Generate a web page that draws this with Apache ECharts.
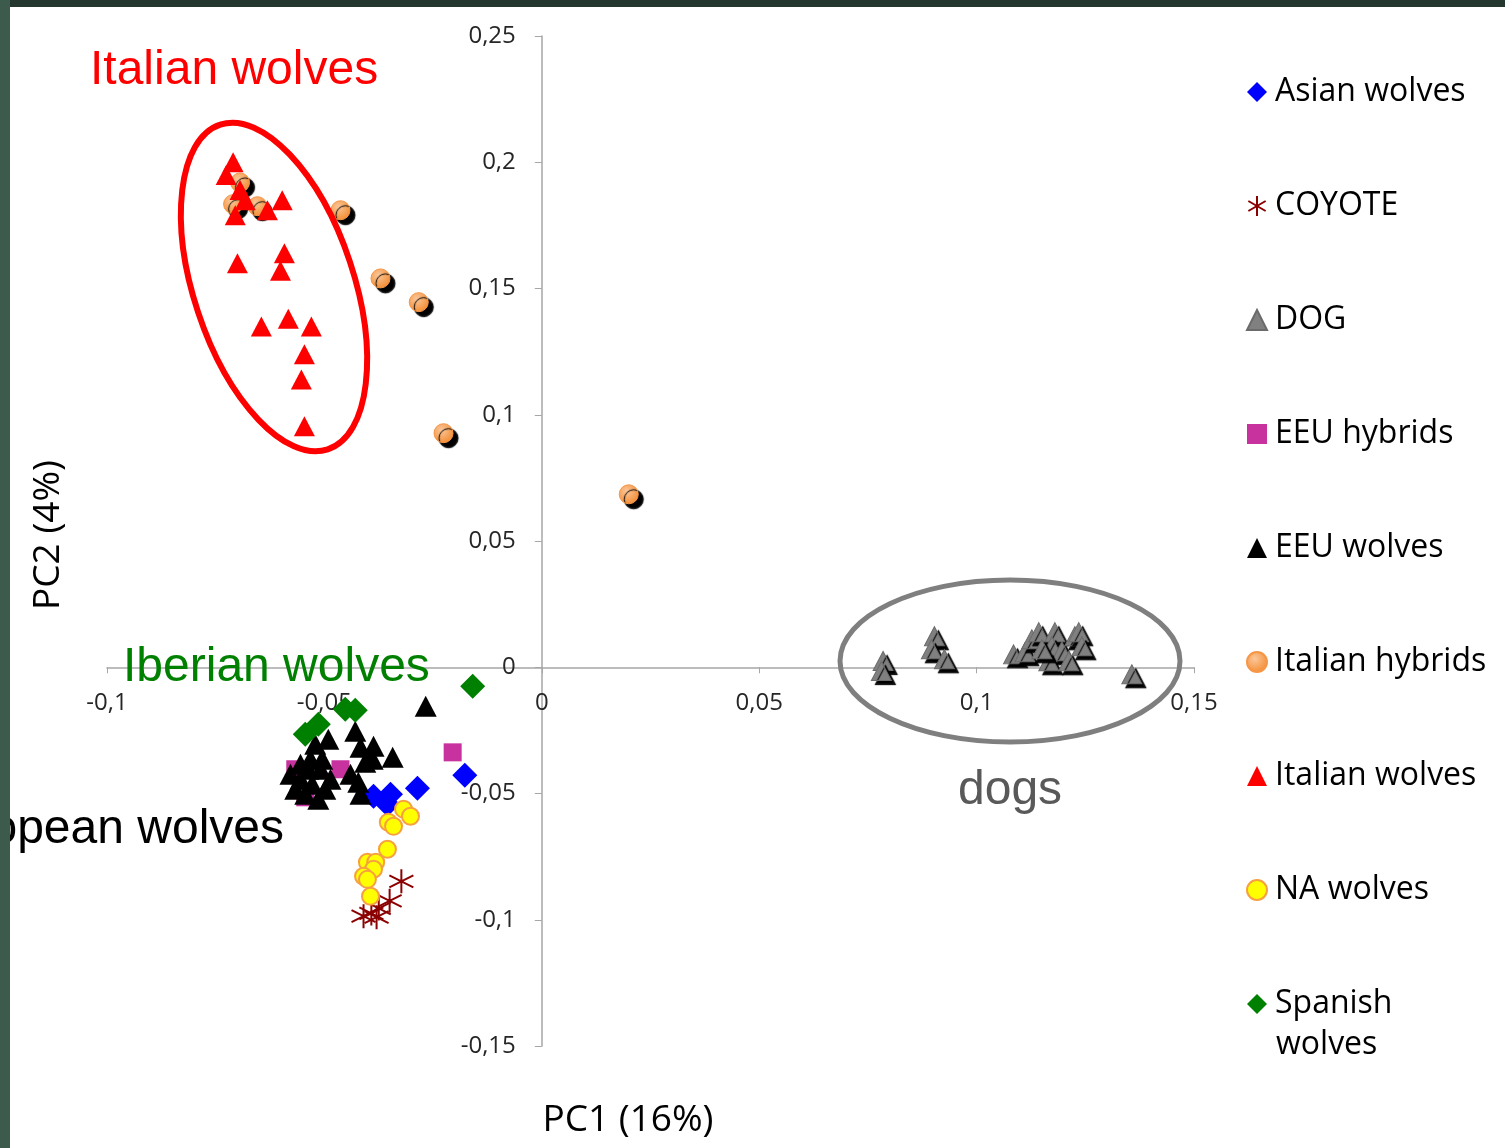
<!DOCTYPE html>
<html><head><meta charset="utf-8">
<script src="https://cdn.jsdelivr.net/npm/echarts@6/dist/echarts.min.js"></script>
<style>html,body{margin:0;padding:0;background:#fff}#c{width:1505px;height:1148px}</style>
</head><body><div id="c"></div>
<script>
// ---- data (PC1, PC2) ----
const asianWolves = [[-0.0387,-0.0511],[-0.0348,-0.0503],[-0.0355,-0.0543],[-0.0286,-0.0479],[-0.0177,-0.0428]];
const coyote = [[-0.0323,-0.0848],[-0.0350,-0.0925],[-0.0375,-0.0955],[-0.0392,-0.0975],[-0.0380,-0.0990],[-0.0410,-0.0986]];
const dog = [[0.0785,0.0025],[0.0781,-0.0015],[0.0903,0.0123],[0.0896,0.0071],[0.0926,0.0032],
  [0.1085,0.0051],[0.1111,0.0059],[0.1127,0.0111],[0.1143,0.0139],[0.1180,0.0139],[0.1173,0.0083],
  [0.1196,0.0063],[0.1166,0.0024],[0.1212,0.0024],[0.1226,0.0123],[0.1235,0.0139],[0.1242,0.0083],
  [0.1150,0.0071],[0.1357,-0.0028]];
const eeuHybrids = [[-0.0567,-0.0404],[-0.0463,-0.0404],[-0.0544,-0.0515],[-0.0205,-0.0337]];
const eeuWolves = [[-0.0267,-0.0154],[-0.0429,-0.0253],[-0.0417,-0.0317],[-0.0387,-0.0313],[-0.0343,-0.0356],
  [-0.0389,-0.0364],[-0.0406,-0.0376],[-0.0440,-0.0424],[-0.0422,-0.0455],[-0.0417,-0.0503],
  [-0.0578,-0.0424],[-0.0555,-0.0444],[-0.0532,-0.0364],[-0.0521,-0.0305],[-0.0509,-0.0404],
  [-0.0498,-0.0483],[-0.0544,-0.0503],[-0.0486,-0.0444],[-0.0528,-0.0463],[-0.0567,-0.0483],
  [-0.0514,-0.0523],[-0.0491,-0.0285],[-0.0537,-0.0404],[-0.0505,-0.0364],[-0.0555,-0.0384]];
const italianHybrids = [[-0.0694,0.192],[-0.0710,0.1834],[-0.0654,0.1826],[-0.0463,0.181],[-0.0371,0.154],
  [-0.0283,0.1446],[-0.0226,0.0927],[0.0200,0.0685]];
const italianWolves = [[-0.0710,0.200],[-0.0726,0.195],[-0.0694,0.189],[-0.0682,0.185],[-0.0705,0.179],
  [-0.0631,0.181],[-0.0597,0.185],[-0.0700,0.160],[-0.0592,0.164],[-0.0601,0.157],[-0.0645,0.135],
  [-0.0583,0.138],[-0.0530,0.135],[-0.0546,0.124],[-0.0553,0.114],[-0.0546,0.0954]];
const naWolves = [[-0.0318,-0.0562],[-0.0302,-0.0590],[-0.0353,-0.0614],[-0.0341,-0.0630],[-0.0355,-0.0721],
  [-0.0401,-0.0772],[-0.0382,-0.0772],[-0.0387,-0.0800],[-0.0410,-0.0828],[-0.0401,-0.0840],[-0.0394,-0.0907]];
const spanishWolves = [[-0.0159,-0.0075],[-0.0429,-0.0170],[-0.0452,-0.0166],[-0.0514,-0.0226],[-0.0544,-0.0265]];

const seriesNames = ['Asian wolves','COYOTE','DOG','EEU hybrids','EEU wolves','Italian hybrids','Italian wolves','NA wolves','Spanish wolves'];
const xRange = [-0.1, 0.15];
const yRange = [-0.15, 0.25];
const tickStep = 0.05;
const xTitle = 'PC1 (16%)';
const yTitle = 'PC2 (4%)';

const starPath = 'path://M10,0L10,20M1.34,5L18.66,15M1.34,15L18.66,5';
const fmt = v => String(parseFloat(v.toFixed(3))).replace('.', ',');
const orangeGrad = new echarts.graphic.RadialGradient(0.4,0.35,0.7,[{offset:0,color:'#fbc79a'},{offset:1,color:'#f28a2e'}]);
const shadow = {shadowColor:'#000', shadowOffsetX:4, shadowOffsetY:4, shadowBlur:1};
const GRID = {left:107, right:311, top:36, bottom:102};

const chart = echarts.init(document.getElementById('c'), null, {renderer:'canvas'});
const legendFont = {fontFamily:'Open Sans', fontSize:32, color:'#000', lineHeight:36, padding:[0,0,0,3]};
const axisFont = {fontFamily:'Open Sans', fontSize:24, color:'#262626', formatter:fmt};
chart.setOption({
  animation:false,
  backgroundColor:'#fff',
  grid:Object.assign({containLabel:false}, GRID),
  xAxis:{type:'value', min:xRange[0], max:xRange[1], interval:tickStep,
    axisLine:{onZero:false, lineStyle:{color:'#a6a6a6', width:1.5}},
    axisTick:{show:true, length:6, lineStyle:{color:'#a6a6a6'}},
    axisLabel:Object.assign({margin:24}, axisFont),
    splitLine:{show:false}},
  yAxis:{type:'value', min:yRange[0], max:yRange[1], interval:tickStep,
    axisLine:{onZero:false, lineStyle:{color:'#a6a6a6', width:1.5}},
    axisTick:{show:true, length:7, lineStyle:{color:'#a6a6a6'}},
    axisLabel:Object.assign({margin:26}, axisFont),
    splitLine:{show:false}},
  legend:{orient:'vertical', left:1241, top:69, itemGap:78, itemWidth:20, itemHeight:20,
    data:seriesNames, textStyle:legendFont, selectedMode:false,
    itemStyle:{shadowColor:'transparent', shadowOffsetX:0, shadowOffsetY:0, shadowBlur:0},
    formatter: n => n === 'Spanish wolves' ? 'Spanish' : n},
  series:[
    {name:'Asian wolves', type:'scatter', data:asianWolves, symbol:'diamond', symbolSize:25, itemStyle:{color:'#0000ff', opacity:1}},
    {name:'COYOTE', type:'scatter', data:coyote, symbol:starPath, symbolSize:24, itemStyle:{color:'rgba(0,0,0,0)', borderColor:'#8b0000', borderWidth:2, opacity:1}},
    {name:'DOG', type:'scatter', data:dog, symbol:'triangle', symbolSize:[20,19], itemStyle:Object.assign({color:'#808080', borderColor:'#6b6b6b', borderWidth:1, opacity:1}, shadow)},
    {name:'EEU hybrids', type:'scatter', data:eeuHybrids, symbol:'rect', symbolSize:18, itemStyle:{color:'#c8329e', opacity:1}},
    {name:'EEU wolves', type:'scatter', data:eeuWolves, symbol:'triangle', symbolSize:[22,21], itemStyle:{color:'#000', opacity:1}},
    {name:'Italian hybrids', type:'scatter', data:italianHybrids, symbol:'circle', symbolSize:19, itemStyle:{color:orangeGrad, borderColor:'#f79646', borderWidth:1, opacity:1, shadowColor:'#000', shadowOffsetX:5, shadowOffsetY:5, shadowBlur:1}},
    {name:'Italian wolves', type:'scatter', data:italianWolves, symbol:'triangle', symbolSize:[21,20], itemStyle:{color:'#ff0000', opacity:1}},
    {name:'NA wolves', type:'scatter', data:naWolves, symbol:'circle', symbolSize:17, itemStyle:{color:'#ffff00', borderColor:'#f7a040', borderWidth:2, opacity:1}},
    {name:'Spanish wolves', type:'scatter', data:spanishWolves, symbol:'diamond', symbolSize:25, itemStyle:{color:'#008000', opacity:1}}
  ],
  graphic:[
    {type:'text', x:1276, y:1045, style:{text:'wolves', font:'32px "Open Sans"', fill:'#000', textVerticalAlign:'middle'}},
    {type:'text', x:628, y:1120, style:{text:xTitle, font:'37px "Open Sans"', fill:'#000', textAlign:'center', textVerticalAlign:'middle'}},
    {type:'text', x:48, y:535, rotation:Math.PI/2, style:{text:yTitle, font:'37px "Open Sans"', fill:'#000', textAlign:'center', textVerticalAlign:'middle'}},
    {type:'text', x:90, y:71, z:50, style:{text:'Italian wolves', font:'48px "Liberation Sans"', fill:'#ff0000', textVerticalAlign:'middle'}},
    {type:'text', x:123, y:668, z:50, style:{text:'Iberian wolves', font:'48px "Liberation Sans"', fill:'#008000', textVerticalAlign:'middle'}},
    {type:'text', x:284, y:830, z:50, style:{text:'European wolves', font:'48px "Liberation Sans"', fill:'#000', textAlign:'right', textVerticalAlign:'middle'}},
    {type:'text', x:958, y:791, z:50, style:{text:'dogs', font:'48px "Liberation Sans"', fill:'#595959', textVerticalAlign:'middle'}},
    {type:'ellipse', x:274, y:287, rotation:0.32, z:60, shape:{cx:0, cy:0, rx:80, ry:171}, style:{fill:null, stroke:'#ff0000', lineWidth:6}},
    {type:'ellipse', x:1010, y:661, z:60, shape:{cx:0, cy:0, rx:170, ry:81}, style:{fill:null, stroke:'#7f7f7f', lineWidth:5}},
    {type:'rect', x:0, y:0, z:100, shape:{x:0, y:0, width:1505, height:7}, style:{fill:'#24372e'}},
    {type:'rect', x:0, y:0, z:100, shape:{x:0, y:0, width:10, height:1148}, style:{fill:'#3d5b4c'}}
  ]
});
// Move both axes (line, ticks and labels) to cross at zero, as in the original.
const zeroX = chart.convertToPixel({xAxisIndex:0}, 0);
const zeroY = chart.convertToPixel({yAxisIndex:0}, 0);
const H = chart.getHeight();
chart.setOption({
  yAxis:{offset: -(zeroX - GRID.left)},
  xAxis:{offset: -((H - GRID.bottom) - zeroY)}
});
</script></body></html>
